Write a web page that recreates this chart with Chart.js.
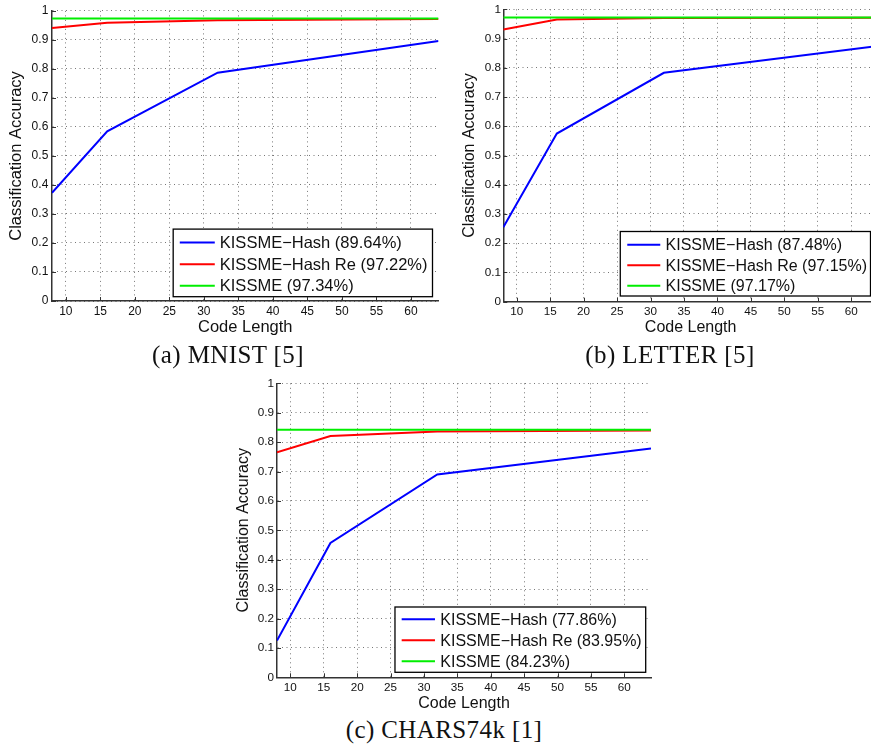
<!DOCTYPE html>
<html>
<head>
<meta charset="utf-8">
<script src="https://cdn.jsdelivr.net/npm/chart.js@4.4.1/dist/chart.umd.min.js"></script>
<style>
  html, body { margin: 0; padding: 0; background: #fff; overflow: hidden; }
  body { width: 871px; height: 750px; position: relative; }
  .plot { position: absolute; }
  .caption {
    position: absolute; font-family: "Liberation Serif", "DejaVu Serif", serif;
    font-size: 25px; letter-spacing: 0.4px; color: #111; white-space: nowrap;
    transform: translateX(-50%);
  }
</style>
</head>
<body>
<div class="plot" style="left:0;top:0;width:440px;height:342px"><canvas id="mnistChart" width="440" height="342"></canvas></div>
<div class="plot" style="left:440px;top:0;width:440px;height:342px"><canvas id="letterChart" width="440" height="342"></canvas></div>
<div class="plot" style="left:220px;top:370px;width:440px;height:345px"><canvas id="charsChart" width="440" height="345"></canvas></div>
<div class="caption" id="capA" style="left:228px;top:341px"></div>
<div class="caption" id="capB" style="left:670px;top:341px"></div>
<div class="caption" id="capC" style="left:444px;top:716px"></div>
<script>
// Code lengths on the x axis and tick values
const codeLengths = [8, 16, 32, 64];
const xTicks = [10, 15, 20, 25, 30, 35, 40, 45, 50, 55, 60];
const yTicks = [0, 0.1, 0.2, 0.3, 0.4, 0.5, 0.6, 0.7, 0.8, 0.9, 1];

// (a) MNIST
const mnistHash = [0.373, 0.585, 0.787, 0.8964];
const mnistHashRe = [0.941, 0.959, 0.968, 0.9722];
const mnistKissme = [0.9734, 0.9734, 0.9734, 0.9734];
const mnistLabels = ['KISSME−Hash (89.64%)', 'KISSME−Hash Re (97.22%)', 'KISSME (97.34%)'];

// (b) LETTER
const letterHash = [0.255, 0.575, 0.783, 0.8748];
const letterHashRe = [0.931, 0.965, 0.9705, 0.9715];
const letterKissme = [0.9717, 0.9717, 0.9717, 0.9717];
const letterLabels = ['KISSME−Hash (87.48%)', 'KISSME−Hash Re (97.15%)', 'KISSME (97.17%)'];

// (c) CHARS74k
const charsHash = [0.125, 0.457, 0.690, 0.7786];
const charsHashRe = [0.765, 0.821, 0.836, 0.8395];
const charsKissme = [0.8423, 0.8423, 0.8423, 0.8423];
const charsLabels = ['KISSME−Hash (77.86%)', 'KISSME−Hash Re (83.95%)', 'KISSME (84.23%)'];

const captions = ['(a) MNIST [5]', '(b) LETTER [5]', '(c) CHARS74k [1]'];
const lineColors = ['#0000ff', '#ff0000', '#00ee00'];

const FONT = '"Liberation Sans", Arial, Helvetica, sans-serif';

// Short tick marks pointing into the plot, matlab style
const innerTicks = {
    id: 'innerTicks',
    afterDraw(chart) {
        const { ctx, chartArea, scales } = chart;
        ctx.save();
        ctx.strokeStyle = '#333';
        ctx.lineWidth = 1;
        ctx.beginPath();
        scales.x.ticks.forEach(t => {
            const px = Math.round(scales.x.getPixelForValue(t.value)) + 0.5;
            ctx.moveTo(px, chartArea.bottom);
            ctx.lineTo(px, chartArea.bottom - 4);
        });
        scales.y.ticks.forEach(t => {
            const py = Math.round(scales.y.getPixelForValue(t.value)) + 0.5;
            ctx.moveTo(chartArea.left, py);
            ctx.lineTo(chartArea.left + 4, py);
        });
        ctx.stroke();
        ctx.restore();
    }
};

// Legend drawn as a boxed panel in the lower right of the plot area
const boxLegend = {
    id: 'boxLegend',
    afterDatasetsDraw(chart, args, o) {
        const { ctx, chartArea } = chart;
        const sets = chart.data.datasets;
        ctx.save();
        ctx.font = o.fontSize + 'px ' + FONT;
        const textW = Math.max(...sets.map(d => ctx.measureText(d.label).width));
        const w = o.textStart + textW + o.padRight;
        const h = o.padTop + o.rowH * sets.length + o.padBottom;
        const x = chartArea.right - o.right - w;
        const y = chartArea.bottom - o.bottom - h;
        ctx.fillStyle = '#fff';
        ctx.fillRect(x, y, w, h);
        ctx.strokeStyle = '#000';
        ctx.lineWidth = 1.3;
        ctx.strokeRect(x, y, w, h);
        sets.forEach((d, i) => {
            const cy = y + o.padTop + o.rowH * (i + 0.5);
            ctx.strokeStyle = d.borderColor;
            ctx.lineWidth = 2;
            ctx.beginPath();
            ctx.moveTo(x + o.lineStart, cy);
            ctx.lineTo(x + o.lineStart + o.lineLen, cy);
            ctx.stroke();
            ctx.fillStyle = '#111';
            ctx.textBaseline = 'middle';
            ctx.fillText(d.label, x + o.textStart, cy + 1);
        });
        ctx.restore();
    }
};

function makeChart(id, series, labels, g) {
    const ctx = document.getElementById(id).getContext('2d');
    return new Chart(ctx, {
        type: 'line',
        data: {
            datasets: series.map((s, i) => ({
                label: labels[i],
                data: codeLengths.map((c, j) => ({ x: c, y: s[j] })),
                borderColor: lineColors[i],
                borderWidth: 2,
                pointRadius: 0,
                tension: 0,
                fill: false,
                order: 2 - i
            }))
        },
        options: {
            responsive: false,
            animation: false,
            layout: { padding: { top: g.top, right: g.right, left: 0, bottom: 0 } },
            plugins: {
                legend: { display: false },
                tooltip: { enabled: false },
                boxLegend: g.legend
            },
            scales: {
                x: {
                    type: 'linear',
                    min: 8,
                    max: 64,
                    afterBuildTicks: s => { s.ticks = xTicks.map(v => ({ value: v })); },
                    afterFit: s => { s.height = g.xHeight; },
                    grid: { color: '#777', lineWidth: 1, drawTicks: false },
                    border: { color: '#333', width: 1.5, dash: [1, 3.5] },
                    ticks: { color: '#111', padding: g.xPad, maxRotation: 0, font: { family: FONT, size: g.tick } },
                    title: {
                        display: true, text: 'Code Length', color: '#111',
                        font: { family: FONT, size: g.title }, padding: { top: 0, bottom: g.xTitlePad }
                    }
                },
                y: {
                    type: 'linear',
                    min: 0,
                    max: 1,
                    afterBuildTicks: s => { s.ticks = yTicks.map(v => ({ value: v })); },
                    afterFit: s => { s.width = g.yWidth; },
                    grid: { color: '#777', lineWidth: 1, drawTicks: false },
                    border: { color: '#333', width: 1.5, dash: [1, 3.5] },
                    ticks: { color: '#111', padding: g.yPad, font: { family: FONT, size: g.tick }, callback: v => String(v) },
                    title: {
                        display: true, text: 'Classification Accuracy', color: '#111',
                        font: { family: FONT, size: g.title }, padding: { top: g.yTitlePad, bottom: 0 }
                    }
                }
            }
        },
        plugins: [boxLegend, innerTicks]
    });
}

makeChart('mnistChart', [mnistHash, mnistHashRe, mnistKissme], mnistLabels, {
    top: 10.7, right: 1.5, yWidth: 52, xHeight: 41, tick: 12, title: 16.5,
    xPad: 3, yPad: 3.7, xTitlePad: 5, yTitlePad: 7,
    legend: { fontSize: 16.5, right: 6, bottom: 4.3, rowH: 21.7, padTop: 2.5, padBottom: 0,
              lineStart: 6.6, lineLen: 35, textStart: 46.6, padRight: 5 }
});

makeChart('letterChart', [letterHash, letterHashRe, letterKissme], letterLabels, {
    top: 6.7, right: 2, yWidth: 63.3, xHeight: 40.3, tick: 11.7, title: 16,
    xPad: 3.2, yPad: 2.3, xTitlePad: 4.4, yTitlePad: 20.4,
    legend: { fontSize: 16, right: 7.5, bottom: 5.7, rowH: 20.5, padTop: 3, padBottom: 0,
              lineStart: 7, lineLen: 33, textStart: 45.3, padRight: 3.5 }
});

makeChart('charsChart', [charsHash, charsHashRe, charsKissme], charsLabels, {
    top: 13.3, right: 9, yWidth: 57, xHeight: 37.7, tick: 11.7, title: 16,
    xPad: 3, yPad: 3, xTitlePad: 2.1, yTitlePad: 13.7,
    legend: { fontSize: 16, right: 5.3, bottom: 5, rowH: 21, padTop: 1.8, padBottom: 0.5,
              lineStart: 6.7, lineLen: 33.3, textStart: 45.3, padRight: 4 }
});

document.getElementById('capA').textContent = captions[0];
document.getElementById('capB').textContent = captions[1];
document.getElementById('capC').textContent = captions[2];
</script>
</body>
</html>
